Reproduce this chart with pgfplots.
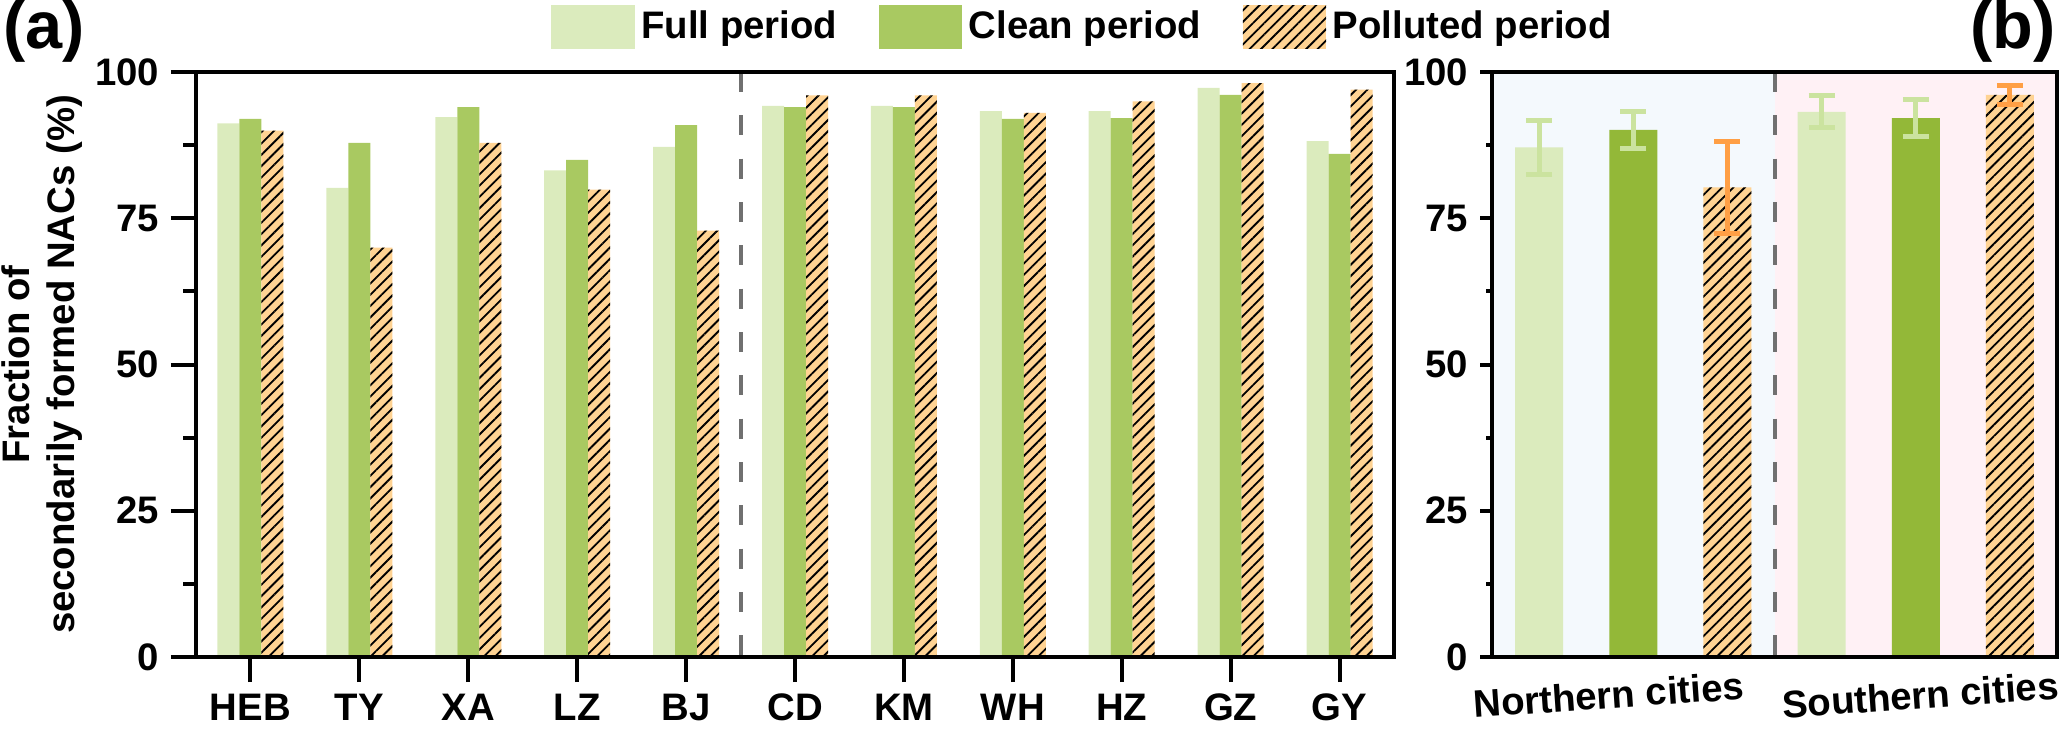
\documentclass[border=0pt]{standalone}
\usepackage{fontspec}
\setmainfont{Liberation Sans}
\usepackage{pgfplots}
\usepackage{pgfplotstable}
\pgfplotsset{compat=1.18}
\usetikzlibrary{patterns.meta}

\definecolor{fullc}{HTML}{DBEBBD}
\definecolor{cleanA}{HTML}{A9C961}
\definecolor{cleanB}{HTML}{93B838}
\definecolor{polc}{HTML}{FFD393}
\definecolor{errg}{HTML}{CBE39F}
\definecolor{erro}{HTML}{FF9F45}
\definecolor{bgblue}{HTML}{F4F9FD}
\definecolor{bgpink}{HTML}{FFF1F5}
\definecolor{dashc}{HTML}{707070}

\pgfplotstableread{
x full clean pol
0 91.2 92.0 90.0
1 80.2 87.9 70.0
2 92.3 94.0 87.9
3 83.2 85.0 79.9
4 87.2 90.9 72.9
5 94.2 94.0 96.0
6 94.2 94.0 96.0
7 93.3 92.0 93.0
8 93.3 92.1 95.0
9 97.3 96.1 98.1
10 88.2 86.0 97.0
}\cityData

\pgfplotsset{
  hatch/.style={fill=polc, draw=none, postaction={pattern color=black, pattern={Lines[angle=45,distance=2.4pt,line width=0.55pt]}}},
  myleg/.style={legend image code/.code={\path[##1] (0pt,-6.5pt) rectangle (25pt,6.5pt);}},
  common/.style={
    scale only axis, height=175.5pt, ymin=0, ymax=100,
    ytick={0,25,50,75,100}, minor ytick={12.5,37.5,62.5,87.5},
    tick align=outside, tick pos=left,
    axis line style={line width=1.2pt, black},
    tick style={line width=1.2pt, black},
    ticklabel style={font=\bfseries\fontsize{11.5}{13}\selectfont},
    /pgf/number format/assume math mode=true,
    axis on top,
  }
}

\begin{document}
\begin{tikzpicture}
\begin{axis}[common, name=a, at={(0,0)}, anchor=south west,
  width=359.4pt,
  ybar=0pt, bar width=6.6pt, myleg,
  xmin=-0.5, xmax=10.5,
  xtick={0,...,10}, xticklabels={HEB,TY,XA,LZ,BJ,CD,KM,WH,HZ,GZ,GY},
  major tick length=7.5pt, minor tick length=3.9pt,
  ylabel={Fraction of\\secondarily formed NACs (\%)},
  ylabel style={align=center, font=\bfseries\fontsize{11.5}{13.5}\selectfont,
    at={(axis description cs:-0.1285,0.5)}, anchor=center},
  legend style={at={(0.742,1.077)}, anchor=center, draw=none, fill=none,
    legend columns=-1, font=\bfseries\fontsize{11.5}{13}\selectfont,
    /tikz/every even column/.append style={column sep=10.5pt}},
]
\addplot[fill=fullc, draw=none] table[x=x, y=full]{\cityData};
\addplot[fill=cleanA, draw=none] table[x=x, y=clean]{\cityData};
\addplot[hatch] table[x=x, y=pol]{\cityData};
\legend{Full period, Clean period, Polluted period}
\draw[dashc, line width=1.2pt, dash pattern=on 6pt off 7pt] (axis cs:4.5,100) -- (axis cs:4.5,0);
\end{axis}

\begin{axis}[common, at={(388.8pt,0)}, anchor=south west,
  width=169.5pt,
  xmin=0.5, xmax=6.5,
  xtick={1.72,5.03}, xticklabels={Northern cities, Southern cities},
  xtick style={draw=none},
  xticklabel style={rotate=4, anchor=north},
  major tick length=3.6pt, minor tick length=1.8pt,
]
\fill[bgblue] (axis cs:0.5,0) rectangle (axis cs:3.5,100);
\fill[bgpink] (axis cs:3.5,0) rectangle (axis cs:6.5,100);
\draw[dashc, line width=1.2pt, dash pattern=on 6pt off 7pt] (axis cs:3.5,100) -- (axis cs:3.5,0);
\addplot[ybar, bar width=14.4pt, bar shift=0pt, fill=fullc, draw=none,
  error bars/.cd, y dir=both, y explicit,
  error bar style={line width=1.5pt, errg},
  error mark options={rotate=90, mark size=3.9pt, line width=1.5pt, errg}]
  coordinates {(1,87.1) +- (0,4.6) (4,93.2) +- (0,2.7)};
\addplot[ybar, bar width=14.4pt, bar shift=0pt, fill=cleanB, draw=none,
  error bars/.cd, y dir=both, y explicit,
  error bar style={line width=1.5pt, errg},
  error mark options={rotate=90, mark size=3.9pt, line width=1.5pt, errg}]
  coordinates {(2,90.1) +- (0,3.2) (5,92.1) +- (0,3.2)};
\addplot[ybar, bar width=14.4pt, bar shift=0pt, hatch,
  error bars/.cd, y dir=both, y explicit,
  error bar style={line width=1.5pt, erro},
  error mark options={rotate=90, mark size=3.9pt, line width=1.5pt, erro}]
  coordinates {(3,80.3) +- (0,7.9) (6,96.1) +- (0,1.6)};
\end{axis}

\node[anchor=north west, inner sep=0pt, font=\bfseries\fontsize{20}{24}\selectfont] at (-57.9pt,197.1pt) {(a)};
\node[anchor=north west, inner sep=0pt, font=\bfseries\fontsize{20}{24}\selectfont] at (532.2pt,197.1pt) {(b)};

\pgfresetboundingbox
\path[use as bounding box] (-58.8pt,-22.8pt) rectangle (561.3pt,197.1pt);
\end{tikzpicture}
\end{document}
